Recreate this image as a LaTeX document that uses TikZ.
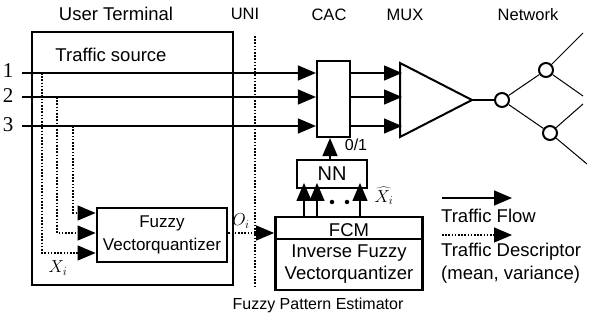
\documentclass[tikz,border=0pt]{standalone}
\usepackage{fontspec}
\setmainfont{Liberation Sans}
\newfontfamily\numfont{Liberation Serif}
\usetikzlibrary{arrows.meta}
\begin{document}
\begin{tikzpicture}[x=1pt,y=-1pt,
  every node/.style={font=\fontsize{18.5}{23}\selectfont},
  tip/.style={-{Triangle[length=18pt,width=15pt]}},
  flow/.style={line width=1.5pt},
  desc/.style={line width=1.1pt, dash pattern=on 1.6pt off 1.6pt},
  thickbox/.style={draw, line width=2.8pt, inner sep=0pt, align=center},
  midbox/.style={draw, line width=2.2pt, inner sep=0pt, align=center},
  num/.style={font=\numfont\fontsize{21}{21}\selectfont, inner sep=0pt},
  head/.style={font=\fontsize{16.5}{20}\selectfont},
  net/.style={circle, draw, line width=2pt, minimum size=14pt, inner sep=0pt},
  dot/.style={circle, fill, inner sep=0pt, minimum size=4.5pt}]
\useasboundingbox (0,0) rectangle (597,320);

% headings
\node (hUT) at (116,14) {User Terminal};
\node[head] (hUNI) at (245,14) {UNI};
\node[head] (hCAC) at (329,15) {CAC};
\node[head] (hMUX) at (405,15) {MUX};
\node[head] (hNet) at (528,15) {Network};

% user terminal
\node[draw, line width=1.2pt, minimum width=201pt, minimum height=253pt, inner sep=0pt] (ut) at (132.5,158.5) {};
\node (ts) at (111,55) {Traffic source};

% UNI
\coordinate (uniT) at (255,36);
\coordinate (uniB) at (255,288);
\draw[desc] (uniT) -- (uniB);

% CAC
\node[midbox, minimum width=33pt, minimum height=76pt] (cac) at (333.5,99) {};

% inputs
\node[num] (n1) at (8,71) {1};
\node[num] (n2) at (8,96) {2};
\node[num] (n3) at (8,125) {3};
\coordinate (s1) at (22,73);
\coordinate (s2) at (22,97);
\coordinate (s3) at (22,126);
\draw[flow,tip] (s1) -- (s1 -| cac.west);
\draw[flow,tip] (s2) -- (s2 -| cac.west);
\draw[flow,tip] (s3) -- (s3 -| cac.west);

% MUX
\coordinate (mA) at (400,63);
\coordinate (mB) at (400,137);
\coordinate (mC) at (472,100);
\draw[line width=2pt, line join=miter] (mA) -- (mC) -- (mB) -- cycle;
\draw[flow,tip] (s1 -| cac.east) -- ([xshift=2pt]s1 -| mA);
\draw[flow,tip] (s2 -| cac.east) -- ([xshift=2pt]s2 -| mA);
\draw[flow,tip] (s3 -| cac.east) -- ([xshift=2pt]s3 -| mA);

% network
\node[net] (c0) at (502,100) {};
\node[net] (c1) at (546,70) {};
\node[net] (c2) at (550,133) {};
\coordinate (e1) at (583,33);
\coordinate (e2) at (583,96);
\coordinate (e3) at (583,104);
\coordinate (e4) at (587,164);
\draw[line width=1.2pt] (mC) -- (c0);
\draw[line width=1pt] (c0) -- (c1) (c0) -- (c2) (c1) -- (e1) (c1) -- (e2) (c2) -- (e3) (c2) -- (e4);

% fuzzy vector quantizer
\node[thickbox, minimum width=130pt, minimum height=54pt, font=\fontsize{17}{23}\selectfont] (fvq) at (162,235) {Fuzzy\\Vectorquantizer};

% dotted feeds
\coordinate (v1) at (42,73);
\coordinate (v1b) at (42,253);
\coordinate (v2) at (57,97);
\coordinate (v2b) at (57,233);
\coordinate (v3) at (73,126);
\coordinate (v3b) at (73,213);
\draw[desc,tip] (v1) -- (v1b) -- (v1b -| fvq.west);
\draw[desc,tip] (v2) -- (v2b) -- (v2b -| fvq.west);
\draw[desc,tip] (v3) -- (v3b) -- (v3b -| fvq.west);
\node (xi) at (58,268) {$X_i$};

% fuzzy pattern estimator
\node[thickbox, minimum width=147pt, minimum height=73pt] (fpe) at (349,253.5) {};
\path (fpe.north west) ++(0,23) coordinate (divL);
\draw[line width=2pt] (divL) -- (divL -| fpe.east);
\node (fcm) at (349,230) {FCM};
\node[align=center, font=\fontsize{18.5}{22}\selectfont] (ivq) at (349,264) {Inverse Fuzzy\\Vectorquantizer};
\draw[desc,tip] (fvq.east |- 0,233) -- (fpe.west |- 0,233);
\node (Oi) at (241,221) {$O_i$};

% NN
\node[midbox, minimum width=70pt, minimum height=28pt, font=\fontsize{20}{22}\selectfont] (nn) at (332,174) {NN};
\draw[flow,tip] (nn.north -| 330,0) -- (cac.south -| 330,0);
\coordinate (p1) at (304,217);
\coordinate (p2) at (317,217);
\coordinate (p3) at (360,217);
\coordinate (q1) at (304,183);
\coordinate (q2) at (317,183);
\coordinate (q3) at (360,183);
\draw[flow,tip] (p1) -- (q1);
\draw[flow,tip] (p2) -- (q2);
\draw[flow,tip] (p3) -- (q3);
\node[dot] (dt1) at (332,202) {};
\node[dot] (dt2) at (347,202) {};
\node[inner sep=0pt] (xh) at (384,196) {$\widehat{X}_i$};
\node[font=\fontsize{16}{20}\selectfont] (l01) at (356,145) {0/1};

\node[font=\fontsize{16}{20}\selectfont] (fpel) at (318,305) {Fuzzy Pattern Estimator};

% legend
\coordinate (lf1) at (442,198);
\coordinate (lf2) at (512,198);
\draw[flow,tip] (lf1) -- (lf2);
\node[anchor=west, inner sep=0pt] (lft) at (441,216) {Traffic Flow};
\coordinate (ld1) at (442,235);
\coordinate (ld2) at (512,235);
\draw[desc,tip] (ld1) -- (ld2);
\node[anchor=west, align=left, inner sep=0pt] (ldt) at (441,263) {Traffic Descriptor\\(mean, variance)};
\end{tikzpicture}
\end{document}
